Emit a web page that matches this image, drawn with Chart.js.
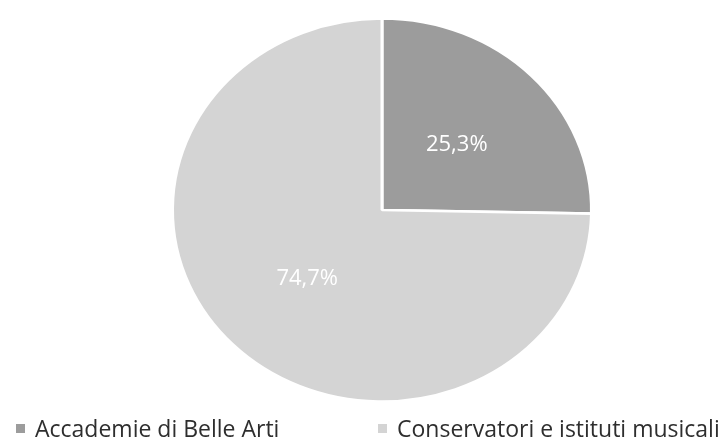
<!DOCTYPE html>
<html>
<head>
<meta charset="utf-8">
<script src="https://cdn.jsdelivr.net/npm/chart.js@4/dist/chart.umd.min.js"></script>
<style>
	html, body { margin: 0; padding: 0; background: #fff; }
	#wrap { position: relative; width: 723px; height: 439px; overflow: hidden; }
	#wrap canvas { position: absolute; left: 0; top: 0; }
	.lg { position: absolute; top: 417px; font: 23px/23px 'Open Sans', sans-serif; color: #2e2e2e; white-space: nowrap; }
	.lg-box { position: absolute; top: 7px; width: 9px; height: 9px; }
</style>
</head>
<body>
<div id="wrap">
	<canvas id="pie" width="723" height="439"></canvas>
	<div id="legend"></div>
</div>
<script>
// Accademie vs Conservatori — pie

const labels = ['Accademie di Belle Arti', 'Conservatori e istituti musicali'];
const values = [25.3, 74.7];
const colors = ['#9c9c9c', '#d4d4d4'];
const legendX = [35, 397];

// the printed pie is a bit squashed vertically
const CY = 210, SQUASH = 193 / 211;

function _mapY(chart, y) {
	const a = chart.chartArea;
	const mid = (a.top + a.bottom) / 2;
	return CY + (y - mid) * SQUASH;
}

const squashPlugin = {
	id: 'squash',
	beforeDatasetsDraw(chart) {
		const a = chart.chartArea, ctx = chart.ctx;
		const mid = (a.top + a.bottom) / 2;
		ctx.save();
		ctx.translate(0, CY);
		ctx.scale(1, SQUASH);
		ctx.translate(0, -mid);
	},
	afterDatasetsDraw(chart) {
		const ctx = chart.ctx;
		ctx.restore();
		// percentage labels
		const meta = chart.getDatasetMeta(0);
		ctx.save();
		ctx.fillStyle = '#ffffff';
		ctx.font = "22px 'Open Sans', sans-serif";
		ctx.textAlign = 'center';
		ctx.textBaseline = 'middle';
		meta.data.forEach((arc, i) => {
			const p = arc.tooltipPosition();
			ctx.fillText(values[i].toFixed(1).replace('.', ',') + '%', p.x, _mapY(chart, p.y) + 2);
		});
		ctx.restore();
	}
};

new Chart(document.getElementById('pie'), {
	type: 'pie',
	data: { labels, datasets: [{ data: values, backgroundColor: colors, borderColor: '#ffffff', borderWidth: 3 }] },
	options: {
		responsive: false,
		animation: false,
		layout: { padding: { left: 171, right: 130, top: 0, bottom: 0 } },
		plugins: { legend: { display: false }, tooltip: { enabled: false } }
	},
	plugins: [squashPlugin]
});

// Legend
document.getElementById('legend').innerHTML = labels.map((l, i) => `
	<div class="lg" style="left:${legendX[i]}px"><span class="lg-box" style="left:-19px;background:${colors[i]}"></span>${l}</div>
`).join('');
</script>
</body>
</html>
